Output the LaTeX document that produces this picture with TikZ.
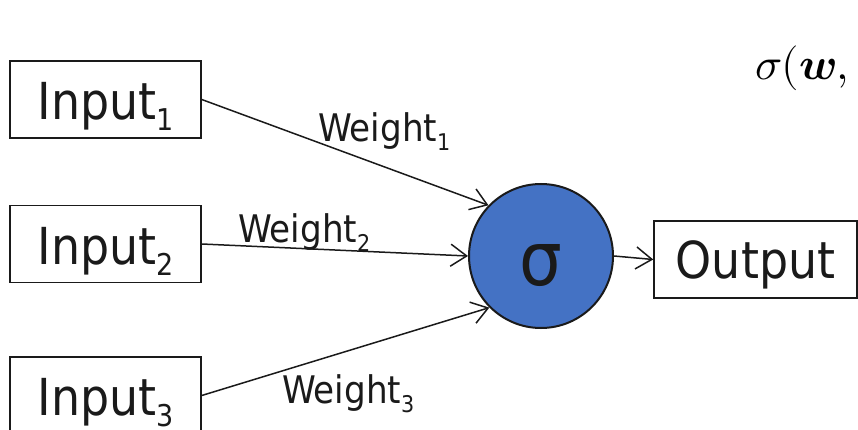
\documentclass[tikz,border=0pt]{standalone}
\usepackage{fontspec}
\usepackage{unicode-math}
\setmainfont{DejaVu Sans Condensed}
\setmathfont{Latin Modern Math}
\usetikzlibrary{arrows.meta}
\definecolor{sigblue}{HTML}{4472C4}
\definecolor{ink}{HTML}{1A1A1A}
\newcommand{\sbI}[1]{\raisebox{-11pt}{\fontsize{30}{34}\selectfont #1}}
\newcommand{\sbW}[1]{\raisebox{-9pt}{\fontsize{23}{27}\selectfont #1}}
\begin{document}
\begin{tikzpicture}[x=1pt,y=-1pt,
  box/.style={draw=ink, line width=1.5pt, inner sep=0pt, minimum width=191pt,
    minimum height=77pt, text height=40pt, text depth=0pt,
    font=\fontsize{51}{60}\selectfont, text=ink},
  conn/.style={draw=ink, line width=1.5pt,
    -{Straight Barb[length=16pt,width=22pt,line width=1.5pt]}},
  wlab/.style={anchor=base west, font=\fontsize{38}{42}\selectfont, text=ink, inner sep=0pt}]
\useasboundingbox (0,0) rectangle (858,430);
\clip (0,0) rectangle (858,430);
\node[box] (in1) at (105.5,99.5) {Input\sbI{1}};
\node[box] (in2) at (105.5,244) {Input\sbI{2}};
\node[box] (in3) at (105.5,395.5) {Input\sbI{3}};
\node[circle, draw=ink, line width=2pt, fill=sigblue, minimum size=144pt, inner sep=0pt] (sig) at (541,256) {};
\node[anchor=base, font=\fontsize{75}{80}\selectfont, text=ink, inner sep=0pt] (sigt) at (541,285) {σ};
\node[box, minimum width=203pt, text height=38pt] (out) at (755.5,259.5) {Output};
\draw[conn] (in1.east) -- (sig.136);
\draw[conn] (in2.east) -- (sig.180);
\draw[conn] (in3.east) -- (sig.225);
\draw[conn] (sig.east) -- (out.west);
\node[wlab] (w1) at (318,142) {Weight\sbW{1}};
\node[wlab] (w2) at (238,242) {Weight\sbW{2}};
\node[wlab] (w3) at (282,403) {Weight\sbW{3}};
\node[anchor=base west, inner sep=0pt, font=\fontsize{45}{50}\selectfont] (f) at (755,80) {$\sigma(\symbfit{w},$};
\end{tikzpicture}
\end{document}
